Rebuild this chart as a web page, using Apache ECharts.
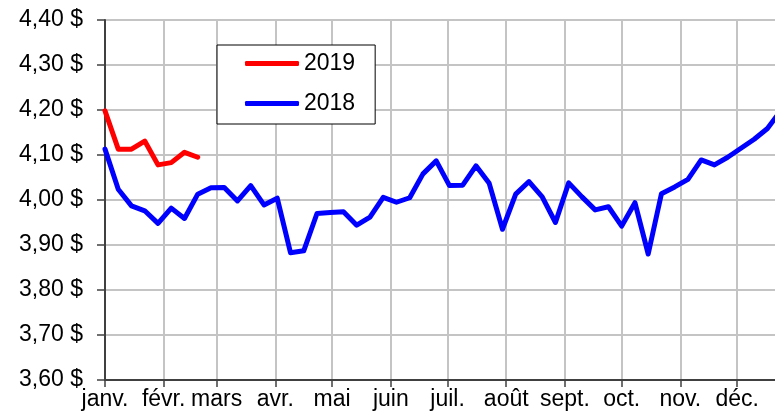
<!DOCTYPE html>
<html>
<head>
<meta charset="utf-8">
<script src="https://cdn.jsdelivr.net/npm/echarts@6/dist/echarts.min.js"></script>
<style>
	html, body { margin: 0; padding: 0; background: #fff; }
	#main { width: 775px; height: 413px; }
</style>
</head>
<body>
<div id="main"></div>
<script>
// jours de l'année (début de chaque semaine)
var weekDays = [0, 7, 14, 21, 28, 35, 42, 49, 56, 63, 70, 77, 84, 91, 98, 105, 112, 119, 126, 133,
	140, 147, 154, 161, 168, 175, 182, 189, 196, 203, 210, 217, 224, 231, 238, 245, 252, 259, 266,
	273, 280, 287, 294, 301, 308, 315, 322, 329, 336, 343, 350, 357];

var price2018 = [4.113, 4.024, 3.987, 3.976, 3.948, 3.982, 3.959, 4.013, 4.027, 4.028,
	3.998, 4.032, 3.989, 4.004, 3.883, 3.887, 3.970, 3.972, 3.974, 3.944,
	3.962, 4.006, 3.995, 4.005, 4.058, 4.087, 4.032, 4.033, 4.076, 4.037,
	3.935, 4.013, 4.041, 4.007, 3.950, 4.038, 4.007, 3.978, 3.985, 3.942,
	3.994, 3.880, 4.014, 4.029, 4.046, 4.089, 4.078, 4.095, 4.115, 4.135,
	4.159, 4.198];

var price2019 = [4.198, 4.113, 4.113, 4.131, 4.078, 4.083, 4.106, 4.095];

var monthStarts = [0, 31, 59, 90, 120, 151, 181, 212, 243, 273, 304, 334];
var monthLabels = ['janv.', 'févr.', 'mars', 'avr.', 'mai', 'juin', 'juil.', 'août', 'sept.', 'oct.', 'nov.', 'déc.'];

function zip(days, values) {
	return values.map(function (v, i) {
		return [days[i], v];
	});
}

var fontFamily = '"Liberation Sans", Arial, sans-serif';
var myChart = echarts.init(document.getElementById('main'));

myChart.setOption({
	animation: false,
	backgroundColor: '#fff',
	textStyle: { fontFamily: fontFamily },
	grid: {
		left: 105,
		right: 0,
		top: 20,
		bottom: 33,
		containLabel: false
	},
	legend: {
		orient: 'vertical',
		left: 217,
		top: 45,
		data: ['2019', '2018'],
		icon: 'roundRect',
		itemWidth: 54,
		itemHeight: 5,
		itemGap: 17,
		padding: [7, 20, 9, 28],
		backgroundColor: '#fff',
		borderColor: '#000',
		borderWidth: 1,
		borderRadius: 0,
		textStyle: { fontSize: 23, color: '#000', fontFamily: fontFamily }
	},
	xAxis: {
		type: 'value',
		min: 0,
		max: 354,
		axisLine: { show: true, onZero: false, lineStyle: { color: '#404040', width: 2 } },
		axisTick: {
			show: true,
			length: 7,
			customValues: monthStarts,
			lineStyle: { color: '#404040', width: 1.5 }
		},
		axisLabel: {
			customValues: monthStarts,
			margin: 8,
			fontSize: 23,
			color: '#000',
			fontFamily: fontFamily,
			formatter: function (value) {
				var idx = monthStarts.indexOf(value);
				return idx >= 0 ? monthLabels[idx] : '';
			}
		},
		splitLine: { show: true, lineStyle: { color: '#c4c4c4', width: 2 } }
	},
	yAxis: {
		type: 'value',
		min: 3.6,
		max: 4.4,
		interval: 0.1,
		axisLine: { show: true, lineStyle: { color: '#404040', width: 2 } },
		axisTick: { show: true, length: 8, lineStyle: { color: '#404040', width: 1.5 } },
		axisLabel: {
			margin: 22,
			fontSize: 23,
			color: '#000',
			fontFamily: fontFamily,
			formatter: function (value) {
				return value.toFixed(2).replace('.', ',') + ' $';
			}
		},
		splitLine: { show: true, lineStyle: { color: '#c4c4c4', width: 2 } }
	},
	series: [
		{
			name: '2018',
			type: 'line',
			color: '#0000ff',
			symbol: 'none',
			clip: true,
			lineStyle: { width: 5, color: '#0000ff', cap: 'round', join: 'round' },
			data: zip(weekDays, price2018)
		},
		{
			name: '2019',
			type: 'line',
			color: '#ff0000',
			symbol: 'none',
			clip: true,
			lineStyle: { width: 5, color: '#ff0000', cap: 'round', join: 'round' },
			data: zip(weekDays, price2019)
		}
	]
});
</script>
</body>
</html>
